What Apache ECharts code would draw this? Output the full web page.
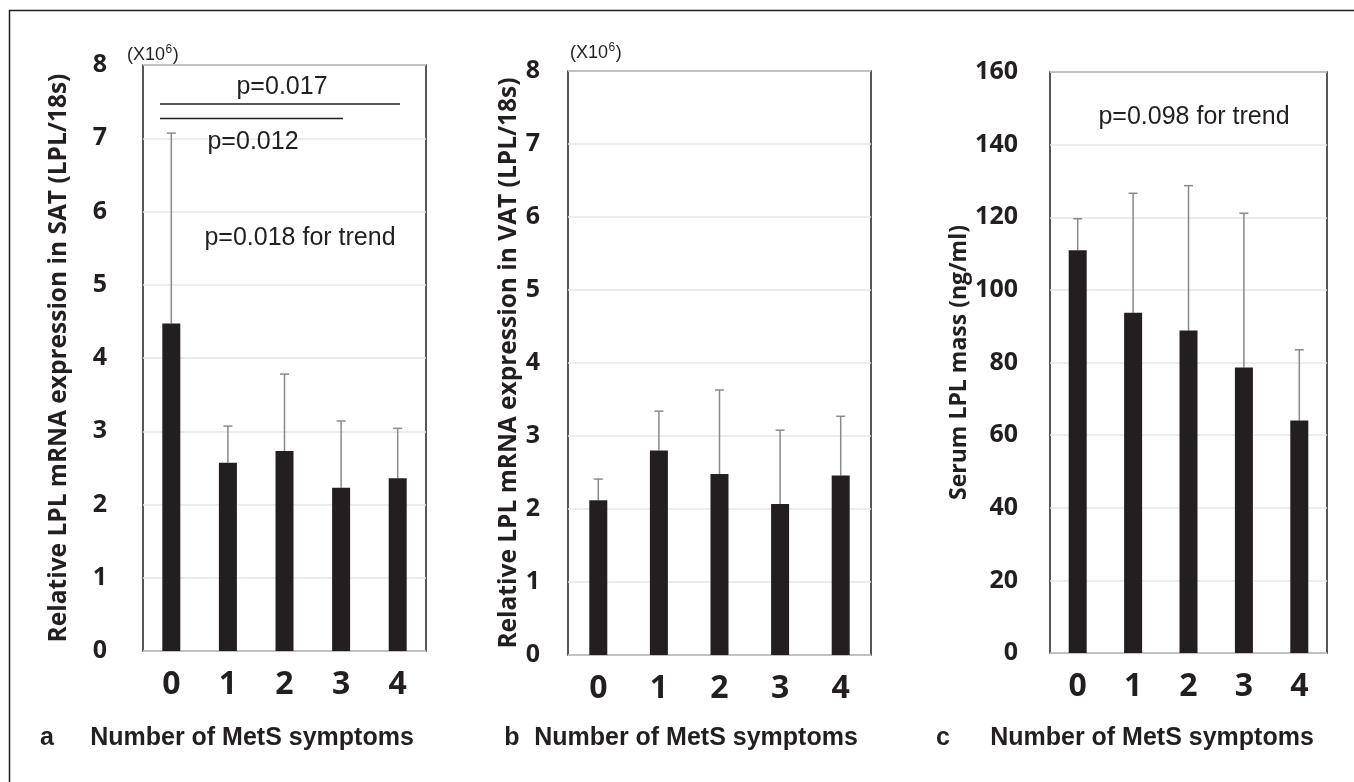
<!DOCTYPE html>
<html>
<head>
<meta charset="utf-8">
<script src="https://cdn.jsdelivr.net/npm/echarts@6/dist/echarts.min.js"></script>
<style>html,body{margin:0;padding:0;background:#fff}#chart{width:1354px;height:782px}</style>
</head>
<body>
<div id="chart"></div>
<script>
// ---- data ----
const categories = ['0', '1', '2', '3', '4'];
const satMean = [4.47, 2.57, 2.73, 2.23, 2.36];
const satUpper = [7.07, 3.07, 3.78, 3.14, 3.04];
const vatMean = [2.12, 2.80, 2.48, 2.07, 2.46];
const vatUpper = [2.41, 3.34, 3.63, 3.08, 3.27];
const serumMean = [110.9, 93.7, 88.8, 78.6, 64.0];
const serumUpper = [119.6, 126.6, 128.7, 121.1, 83.5];
const ticksA = [0, 8, 1];
const ticksC = [0, 160, 20];

const DARK = '#231f20';
const boldFont = '"Open Sans", "Liberation Sans", sans-serif';
const regFont = '"Liberation Sans", Arial, sans-serif';

const chart = echarts.init(document.getElementById('chart'), null, {renderer: 'canvas'});

const grids = [
  {left: 143, top: 65, width: 283, height: 586},
  {left: 568, top: 71, width: 303, height: 584},
  {left: 1050, top: 72, width: 277, height: 581}
].map(g => Object.assign({show: true, borderColor: DARK, borderWidth: 1.5, backgroundColor: 'transparent', containLabel: false}, g));

function xAxis(i) {
  return {
    type: 'category', gridIndex: i, data: categories,
    axisLine: {show: false}, axisTick: {show: false},
    axisLabel: {fontFamily: boldFont, fontWeight: 'bold', fontSize: 32, color: DARK, margin: 18}
  };
}
function yAxis(i, t, name, gap, margin, nameSize) {
  return {
    type: 'value', gridIndex: i, min: t[0], max: t[1], interval: t[2],
    name: name, nameLocation: 'middle', nameGap: gap,
    nameTextStyle: {fontFamily: boldFont, fontWeight: 'bold', fontSize: nameSize, color: DARK},
    axisLine: {show: false}, axisTick: {show: false},
    axisLabel: {fontFamily: boldFont, fontWeight: 'bold', fontSize: 25, color: DARK, margin: margin},
    splitLine: {lineStyle: {color: '#e6e6e6', width: 1.5}}
  };
}

function barSeries(i, data) {
  return {type: 'bar', xAxisIndex: i, yAxisIndex: i, data: data, barWidth: 18,
    itemStyle: {color: DARK}, z: 3, silent: true};
}
function errSeries(i, mean, upper) {
  return {
    type: 'custom', xAxisIndex: i, yAxisIndex: i, z: 2, silent: true,
    data: mean.map((m, k) => [k, m, upper[k]]),
    renderItem: function (params, api) {
      const base = api.coord([api.value(0), api.value(1)]);
      const top = api.coord([api.value(0), api.value(2)]);
      const st = {stroke: '#8a8a8a', lineWidth: 1.5};
      return {type: 'group', children: [
        {type: 'line', shape: {x1: base[0], y1: base[1], x2: top[0], y2: top[1]}, style: st},
        {type: 'line', shape: {x1: top[0] - 4.5, y1: top[1], x2: top[0] + 4.5, y2: top[1]}, style: st}
      ]};
    }
  };
}

function txt(text, x, y, size, bold, align) {
  return {type: 'text', z: 10, silent: true, style: {
    text: text, x: x, y: y,
    font: (bold ? 'bold ' : '') + size + 'px ' + (bold ? boldFont : regFont),
    fill: DARK, align: align || 'center', verticalAlign: 'middle'}};
}
function titleTxt(text, x, y) {
  return {type: 'text', z: 10, silent: true, style: {
    text: text, x: x, y: y, font: 'bold 25px "Liberation Sans", Arial, sans-serif',
    fill: DARK, align: 'center', verticalAlign: 'middle'}};
}
function hline(x1, x2, y) {
  return {type: 'line', z: 10, silent: true, shape: {x1: x1, y1: y, x2: x2, y2: y}, style: {stroke: DARK, lineWidth: 1.5}};
}
// "(X10^6)" unit label built from three pieces
const measureCtx = document.createElement('canvas').getContext('2d');
function measure(text, font) { measureCtx.font = font; return measureCtx.measureText(text).width; }
function unitLabel(x, y) {
  const f1 = '18px ' + regFont, f2 = '12px ' + regFont;
  const w1 = measure('(X10', f1), w2 = measure('6', f2);
  const mk = (t, xx, yy, f) => ({type: 'text', z: 10, silent: true,
    style: {text: t, x: xx, y: yy, font: f, fill: DARK, align: 'left', verticalAlign: 'middle'}});
  return [mk('(X10', x, y, f1), mk('6', x + w1 + 0.5, y - 5, f2), mk(')', x + w1 + w2 + 1, y, f1)];
}

chart.setOption({
  animation: false,
  backgroundColor: '#fff',
  grid: grids,
  xAxis: [xAxis(0), xAxis(1), xAxis(2)],
  yAxis: [
    yAxis(0, ticksA, 'Relative LPL mRNA expression in SAT (LPL/18s)', 71, 36, 24.5),
    yAxis(1, ticksA, 'Relative LPL mRNA expression in VAT (LPL/18s)', 34, 28, 24.5),
    yAxis(2, ticksC, 'Serum LPL mass (ng/ml)', 72, 32, 23)
  ],
  series: [
    barSeries(0, satMean), errSeries(0, satMean, satUpper),
    barSeries(1, vatMean), errSeries(1, vatMean, vatUpper),
    barSeries(2, serumMean), errSeries(2, serumMean, serumUpper)
  ],
  graphic: [
    {type: 'rect', silent: true, shape: {x: 9.5, y: 10.5, width: 1400, height: 900}, style: {fill: 'none', stroke: DARK, lineWidth: 1.5}},
    ...unitLabel(127, 55),
    ...unitLabel(570, 53),
    txt('p=0.017', 282, 87, 25, false),
    hline(160, 400, 104),
    hline(160, 343, 118.5),
    txt('p=0.012', 253, 142, 25, false),
    txt('p=0.018 for trend', 300, 238, 25, false),
    txt('p=0.098 for trend', 1194, 117, 25, false),
    titleTxt('a', 47, 738),
    titleTxt('Number of MetS symptoms', 252, 738),
    titleTxt('b', 512, 738),
    titleTxt('Number of MetS symptoms', 696, 738),
    titleTxt('c', 943, 738),
    titleTxt('Number of MetS symptoms', 1152, 738)
  ]
});
</script>
</body>
</html>
